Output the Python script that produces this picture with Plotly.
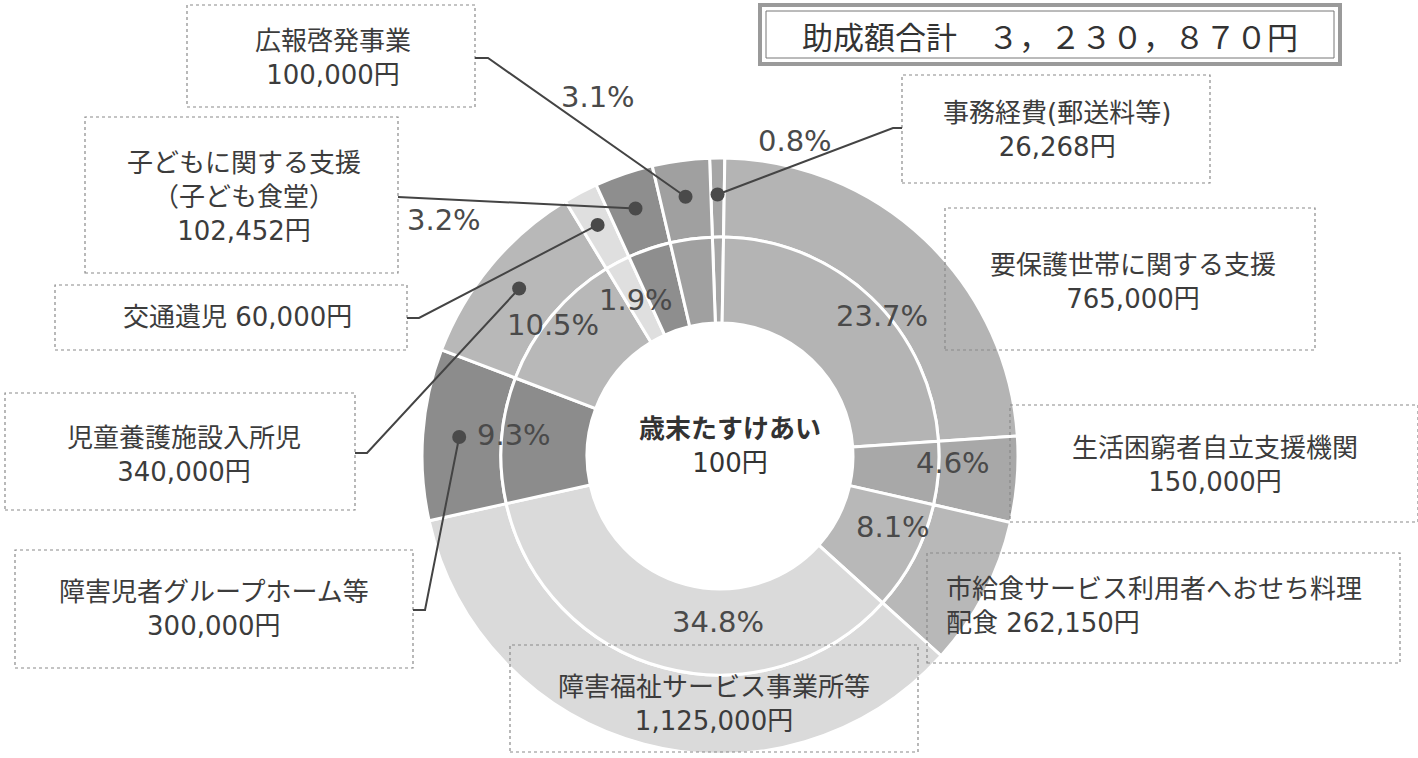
import math
import plotly.graph_objects as go

W, H = 1418, 758

# ---------------- data ----------------
categories = ["事務経費(郵送料等)", "要保護世帯に関する支援", "生活困窮者自立支援機関",
              "市給食サービス利用者へおせち料理配食", "障害福祉サービス事業所等",
              "障害児者グループホーム等", "児童養護施設入所児", "交通遺児",
              "子どもに関する支援（子ども食堂）", "広報啓発事業"]
values = [26268, 765000, 150000, 262150, 1125000, 300000, 340000, 60000, 102452, 100000]
label_heads = ["事務経費(郵送料等)", "要保護世帯に関する支援", "生活困窮者自立支援機関",
               "市給食サービス利用者へおせち料理<br>配食", "障害福祉サービス事業所等",
               "障害児者グループホーム等", "児童養護施設入所児", "交通遺児",
               "子どもに関する支援<br>（子ども食堂）", "広報啓発事業"]
label_seps = ["<br>", "<br>", "<br>", " ", "<br>", "<br>", "<br>", " ", "<br>", "<br>"]
colors = ["#a6a6a6", "#b4b4b4", "#a8a8a8", "#b8b8b8", "#dadada",
          "#8c8c8c", "#b8b8b8", "#dfdfdf", "#8e8e8e", "#a0a0a0"]
title_text = "助成額合計　３，２３０，８７０円"
center_lines = ["歳末たすけあい", "100円"]

# ---------------- layout helpers (pixels -> paper) ----------------
def px(x):
    return x / W

def py(y):
    return 1 - y / H

CX, CY = 720, 456
R_OUT, R_MID, R_IN = 298, 219, 133
ROT = -2

def domain(r):
    return dict(x=[px(CX - r), px(CX + r)], y=[py(CY + r), py(CY - r)])

total = sum(values)
fig = go.Figure()
for r, hole in [(R_OUT, R_MID / R_OUT), (R_MID, R_IN / R_MID)]:
    fig.add_trace(go.Pie(
        labels=categories, values=values, sort=False, direction="clockwise",
        rotation=ROT, hole=hole, domain=domain(r),
        marker=dict(colors=colors, line=dict(color="white", width=3)),
        textinfo="none", hoverinfo="label+value+percent", showlegend=False,
    ))

FONT = "DejaVu Sans, Noto Sans CJK JP, sans-serif"
CJK = "Noto Sans CJK JP, sans-serif"
TXT = "#3c3c3c"
annotations = []
shapes = []

# label boxes: index -> (box x0,y0,x1,y1, text x,y, align)
boxes = {
    9: ((187, 5, 475, 107), (333, 58), "center"),
    8: ((85, 117, 398, 273), (244, 197), "center"),
    7: ((55, 285, 407, 350), (237, 317), "center"),
    6: ((5, 393, 355, 510), (184, 455), "center"),
    5: ((15, 550, 413, 668), (214, 609), "center"),
    4: ((510, 645, 918, 752), (714, 704), "center"),
    3: ((927, 553, 1400, 663), (944, 606), "left"),
    2: ((1010, 405, 1418, 522), (1215, 465), "center"),
    1: ((945, 208, 1315, 350), (1133, 282), "center"),
    0: ((902, 75, 1210, 183), (1057, 130), "center"),
}
for i, ((x0, y0, x1, y1), (tx, ty), al) in boxes.items():
    shapes.append(dict(type="rect", xref="paper", yref="paper",
                       x0=px(x0), x1=px(x1), y0=py(y1), y1=py(y0),
                       line=dict(color="#8a8a8a", width=1.2, dash="dot"), layer="above"))
    annotations.append(dict(
        x=px(tx), y=py(ty), xref="paper", yref="paper",
        xanchor="left" if al == "left" else "center", yanchor="middle", align=al,
        text=label_heads[i] + label_seps[i] + f"{values[i]:,}円",
        showarrow=False, font=dict(family=FONT, size=26, color=TXT)))

# percentage labels
pct_pos = {0: (795, 141), 1: (882, 316), 2: (953, 463), 3: (893, 527), 4: (718, 622),
           5: (514, 435), 6: (553, 325), 7: (636, 300), 8: (444, 220), 9: (598, 97)}
for i, (tx, ty) in pct_pos.items():
    annotations.append(dict(
        x=px(tx), y=py(ty), xref="paper", yref="paper", xanchor="center", yanchor="middle",
        text=f"{100 * values[i] / total:.1f}%", showarrow=False,
        font=dict(family=FONT, size=29, color="#4a4a4a")))

# leader lines with dots placed at the slice mid-angle
cum = []
c = 0
for v in values:
    cum.append(c)
    c += v
R_DOT = (R_OUT + R_MID) / 2 + 3
leaders = {
    0: [(902, 128), (893, 128)],
    9: [(475, 58), (488, 58)],
    8: [(398, 197)],
    7: [(407, 318), (419, 318)],
    6: [(355, 453), (367, 453)],
    5: [(413, 610), (425, 610)],
}
for i, pts in leaders.items():
    a = math.radians(ROT + (cum[i] + values[i] / 2) / total * 360)
    dx = CX + R_DOT * math.sin(a)
    dy = CY - R_DOT * math.cos(a)
    allpts = pts + [(dx, dy)]
    path = "M " + " L ".join(f"{px(x):.5f},{py(y):.5f}" for x, y in allpts)
    shapes.append(dict(type="path", xref="paper", yref="paper", path=path,
                       line=dict(color="#444444", width=2), layer="above"))
    rr = 7
    shapes.append(dict(type="circle", xref="paper", yref="paper",
                       x0=px(dx - rr), x1=px(dx + rr), y0=py(dy + rr), y1=py(dy - rr),
                       fillcolor="#4a4a4a", line=dict(color="#4a4a4a", width=0), layer="above"))

# title box (double frame)
shapes.append(dict(type="rect", xref="paper", yref="paper",
                   x0=px(760), x1=px(1340), y0=py(64), y1=py(5),
                   line=dict(color="#9a9a9a", width=4), layer="above"))
shapes.append(dict(type="rect", xref="paper", yref="paper",
                   x0=px(766), x1=px(1334), y0=py(58), y1=py(11),
                   line=dict(color="#777777", width=1), layer="above"))
annotations.append(dict(x=px(1050), y=py(35), xref="paper", yref="paper",
                        xanchor="center", yanchor="middle", text=title_text, showarrow=False,
                        font=dict(family=CJK, size=31, color="#333333")))

# centre text
annotations.append(dict(x=px(730), y=py(446), xref="paper", yref="paper",
                        xanchor="center", yanchor="middle",
                        text="<b>" + center_lines[0] + "</b><br>" + center_lines[1],
                        showarrow=False, font=dict(family=FONT, size=26, color="#333333")))

fig.update_layout(
    width=W, height=H, margin=dict(l=0, r=0, t=0, b=0),
    paper_bgcolor="white", plot_bgcolor="white",
    shapes=shapes, annotations=annotations,
)
fig.write_html("out.html")
